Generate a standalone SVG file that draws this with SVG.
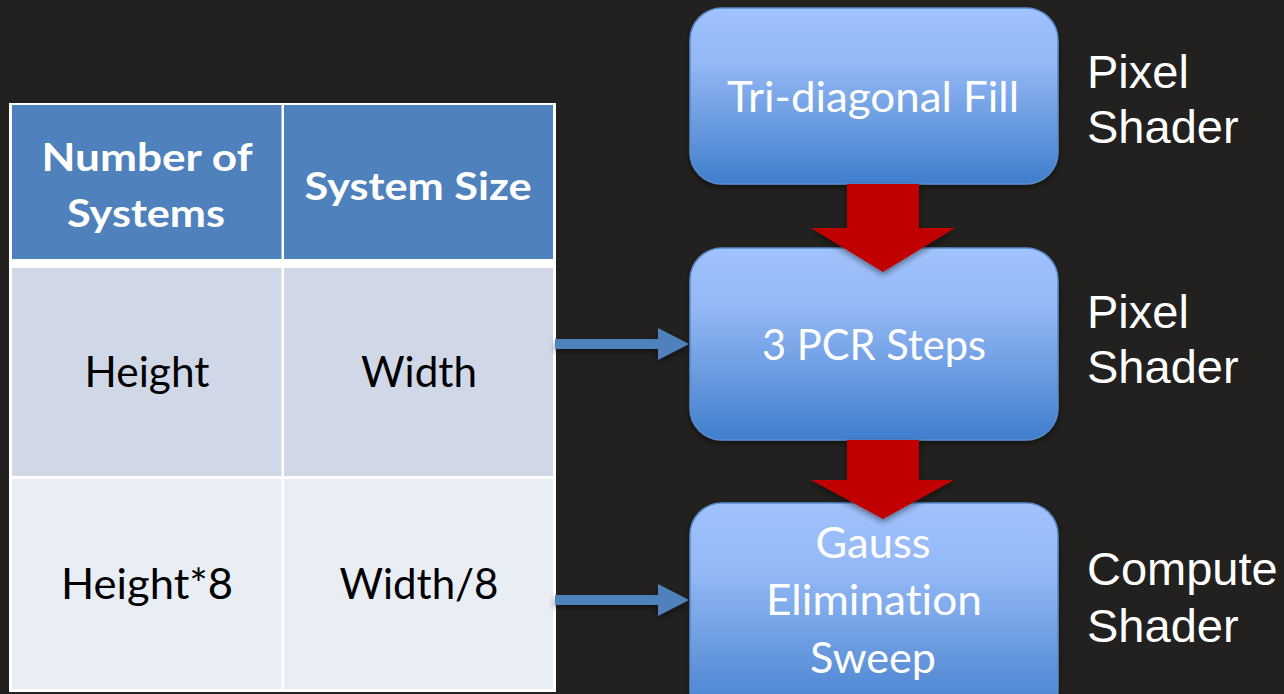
<svg xmlns="http://www.w3.org/2000/svg" width="1284" height="694" viewBox="0 0 1284 694">
  <defs>
    <linearGradient id="boxFill" x1="0" y1="0" x2="0" y2="1">
      <stop offset="0" stop-color="#a0c2fd"/>
      <stop offset="0.3" stop-color="#94b9f7"/>
      <stop offset="0.75" stop-color="#5f93da"/>
      <stop offset="1" stop-color="#3e7ecd"/>
    </linearGradient>
    <filter id="shadow" x="-10%" y="-10%" width="120%" height="130%">
      <feDropShadow dx="0" dy="3" stdDeviation="3" flood-color="#000" flood-opacity="0.45"/>
    </filter>
    <style>
      text { font-variant-ligatures: none; }
      .box { fill: url(#boxFill); stroke: #5a8ccb; stroke-width: 1.5; filter: url(#shadow); }
      .boxText { font-family: Lato, "Open Sans", sans-serif; font-size: 43px; fill: #ffffff; text-anchor: middle; }
      .side { font-family: "Liberation Sans", Arial, sans-serif; font-size: 47px; fill: #ffffff; }
      .head { fill: #4f81bd; }
      .band1 { fill: #d0d8e8; }
      .band2 { fill: #e9edf4; }
      .headText { font-family: Lato, "Open Sans", sans-serif; font-weight: bold; font-size: 39px; fill: #ffffff; text-anchor: middle; }
      .cellText { font-family: Lato, "Open Sans", sans-serif; font-size: 43px; fill: #000000; text-anchor: middle; }
      .red { fill: #c00000; filter: url(#shadow); }
      .blue { fill: #4f81bd; filter: url(#shadow); }
    </style>
  </defs>

  <rect x="0" y="0" width="1284" height="694" fill="#222120"/>

  <!-- table -->
  <g id="table">
    <rect x="9" y="103" width="547" height="589" fill="#ffffff"/>
    <rect class="head" x="12" y="105" width="269.5" height="154"/>
    <rect class="head" x="284" y="105" width="269" height="154"/>
    <rect class="band1" x="12" y="268" width="269.5" height="208"/>
    <rect class="band1" x="284" y="268" width="269" height="208"/>
    <rect class="band2" x="12" y="479" width="269.5" height="210"/>
    <rect class="band2" x="284" y="479" width="269" height="210"/>
    <text class="headText" x="147" y="171" textLength="211" lengthAdjust="spacingAndGlyphs">Number of</text>
    <text class="headText" x="146" y="227" textLength="158" lengthAdjust="spacingAndGlyphs">Systems</text>
    <text class="headText" x="418" y="200" textLength="227" lengthAdjust="spacingAndGlyphs">System Size</text>
    <text class="cellText" x="147" y="387" textLength="125" lengthAdjust="spacingAndGlyphs">Height</text>
    <text class="cellText" x="419" y="387" textLength="116" lengthAdjust="spacingAndGlyphs">Width</text>
    <text class="cellText" x="147" y="599" textLength="172" lengthAdjust="spacingAndGlyphs">Height*8</text>
    <text class="cellText" x="419" y="599" textLength="159" lengthAdjust="spacingAndGlyphs">Width/8</text>
  </g>

  <!-- pipeline stages -->
  <g id="stage-fill">
    <rect class="box" x="690" y="8" width="368" height="176" rx="32"/>
    <text class="boxText" x="873" y="112" textLength="292" lengthAdjust="spacingAndGlyphs">Tri-diagonal Fill</text>
  </g>
  <g id="stage-pcr">
    <rect class="box" x="690" y="248" width="368" height="192" rx="32"/>
    <text class="boxText" x="874" y="360" textLength="224" lengthAdjust="spacingAndGlyphs">3 PCR Steps</text>
  </g>
  <g id="stage-gauss">
    <rect class="box" x="690" y="503" width="368" height="220" rx="32"/>
    <text class="boxText" x="873" y="558" textLength="115" lengthAdjust="spacingAndGlyphs">Gauss</text>
    <text class="boxText" x="874" y="615" textLength="216" lengthAdjust="spacingAndGlyphs">Elimination</text>
    <text class="boxText" x="873" y="673" textLength="126" lengthAdjust="spacingAndGlyphs">Sweep</text>
  </g>

  <!-- shader labels -->
  <g id="label-1">
    <text class="side" x="1087" y="88">Pixel</text>
    <text class="side" x="1087" y="143">Shader</text>
  </g>
  <g id="label-2">
    <text class="side" x="1087" y="328">Pixel</text>
    <text class="side" x="1087" y="383">Shader</text>
  </g>
  <g id="label-3">
    <text class="side" x="1087" y="585">Compute</text>
    <text class="side" x="1087" y="642">Shader</text>
  </g>

  <!-- connectors -->
  <g id="connectors">
    <polygon class="red" points="847,184 919,184 919,228 955,228 883,272 811,228 847,228"/>
    <polygon class="red" points="847,440 919,440 919,480 954,480 883,519 811,480 847,480"/>
    <polygon class="blue" points="555,339 658,339 658,328 689,344 658,360 658,349 555,349"/>
    <polygon class="blue" points="555,595 658,595 658,584 689,600 658,616 658,605 555,605"/>
  </g>
</svg>
